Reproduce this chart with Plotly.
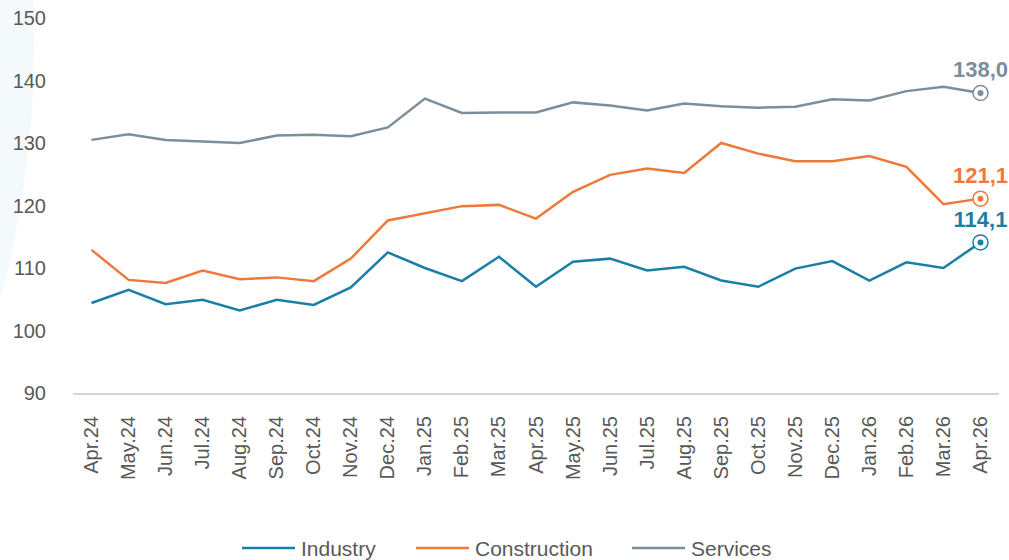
import plotly.graph_objects as go

months = ["Apr.24", "May.24", "Jun.24", "Jul.24", "Aug.24", "Sep.24", "Oct.24", "Nov.24",
          "Dec.24", "Jan.25", "Feb.25", "Mar.25", "Apr.25", "May.25", "Jun.25", "Jul.25",
          "Aug.25", "Sep.25", "Oct.25", "Nov.25", "Dec.25", "Jan.26", "Feb.26", "Mar.26", "Apr.26"]

industry = [104.4, 106.5, 104.2, 104.9, 103.2, 104.9, 104.1, 106.9, 112.5, 110.0, 107.9, 111.8,
            107.0, 111.0, 111.5, 109.6, 110.2, 108.0, 107.0, 109.9, 111.1, 108.0, 110.9, 110.0, 114.1]
construction = [112.9, 108.1, 107.6, 109.6, 108.2, 108.5, 107.9, 111.5, 117.6, 118.75, 119.9, 120.1,
                117.9, 122.2, 124.9, 125.9, 125.2, 130.0, 128.3, 127.1, 127.1, 127.9, 126.2, 120.2, 121.1]
services = [130.5, 131.4, 130.5, 130.3, 130.0, 131.2, 131.3, 131.1, 132.5, 137.1, 134.8, 134.9,
            134.9, 136.5, 136.0, 135.2, 136.3, 135.9, 135.65, 135.8, 137.0, 136.8, 138.3, 139.0, 138.0]

series_names = ["Industry", "Construction", "Services"]
series_values = [industry, construction, services]
series_colors = ["#1a7fa6", "#f07838", "#7b8f9b"]
y_ticks = [90, 100, 110, 120, 130, 140, 150]

FONT = "Liberation Sans, Arial, sans-serif"
TXT = "#595959"

# plot area in pixels (for placing the legend / decoration)
L, R, T, B = 73, 999, 18, 393
W, H = R - L, B - T


def px_x(p):
    return (p - L) / W


def px_y(p):
    return (B - p) / H


fig = go.Figure()

for name, vals, col in zip(series_names, series_values, series_colors):
    fig.add_trace(go.Scatter(x=months, y=vals, mode="lines", name=name,
                             line=dict(color=col, width=2.5), hoverinfo="skip",
                             showlegend=False))

for name, vals, col in zip(series_names, series_values, series_colors):
    last = vals[-1]
    fig.add_trace(go.Scatter(
        x=[months[-1]], y=[last], mode="markers+text",
        text=[f"{last:.1f}".replace(".", ",")], textposition="top center",
        textfont=dict(family=FONT, size=22, color=col, weight="bold"),
        marker=dict(symbol="circle", size=15, color="white", line=dict(color=col, width=1.5)),
        showlegend=False, cliponaxis=False, hoverinfo="skip"))
    fig.add_trace(go.Scatter(
        x=[months[-1]], y=[last], mode="markers",
        marker=dict(symbol="circle", size=6, color=col, line=dict(width=0)),
        showlegend=False, cliponaxis=False, hoverinfo="skip"))

# decorative pale circle on the left
fig.add_shape(type="circle", xref="paper", yref="paper",
              x0=px_x(-1894), x1=px_x(34), y0=px_y(1010), y1=px_y(-918),
              fillcolor="#f4f9fb", line=dict(width=0), layer="below")

# manual legend
legend_line_starts = [242, 416, 632]
legend_y = px_y(548)
for name, col, x0 in zip(series_names, series_colors, legend_line_starts):
    fig.add_shape(type="line", xref="paper", yref="paper",
                  x0=px_x(x0), x1=px_x(x0 + 53), y0=legend_y, y1=legend_y,
                  line=dict(color=col, width=2.5))
    fig.add_annotation(xref="paper", yref="paper", x=px_x(x0 + 57), y=legend_y,
                       xanchor="left", yanchor="middle", showarrow=False,
                       text=name, font=dict(family=FONT, size=21, color=TXT))

fig.update_layout(
    width=1009, height=560,
    margin=dict(l=L, r=1009 - R, t=T, b=560 - B),
    paper_bgcolor="white", plot_bgcolor="rgba(0,0,0,0)",
    font=dict(family=FONT, size=20, color=TXT),
    showlegend=False,
    xaxis=dict(type="category", range=[-0.5, 24.5], showgrid=False, automargin=False,
               showline=True, linecolor="#d4d4d4", linewidth=2,
               tickangle=-90, ticks="outside", ticklen=13, tickcolor="rgba(0,0,0,0)",
               tickfont=dict(family=FONT, size=20, color=TXT), fixedrange=True),
    yaxis=dict(range=[90, 150], tickvals=y_ticks, showgrid=False, zeroline=False,
               showline=False, ticks="", ticklabelstandoff=26, automargin=False,
               tickfont=dict(family=FONT, size=20, color=TXT), fixedrange=True),
)

fig.write_html("out.html", config={"displayModeBar": False},
               post_script="document.body.style.margin='0';document.body.style.overflow='hidden';")
